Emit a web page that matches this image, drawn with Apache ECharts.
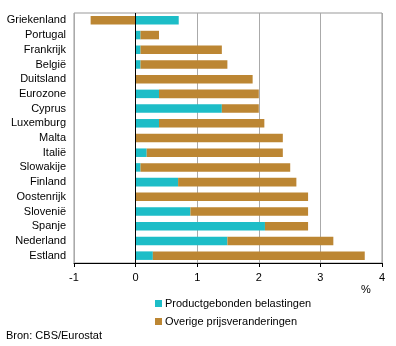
<!DOCTYPE html>
<html><head><meta charset="utf-8">
<script src="https://cdn.jsdelivr.net/npm/echarts@6/dist/echarts.min.js"></script>
<style>html,body{margin:0;padding:0;background:#fff}#c{width:396px;height:346px}</style>
</head><body><div id="c"></div>
<script>
const categories = ['Griekenland','Portugal','Frankrijk','België','Duitsland','Eurozone','Cyprus','Luxemburg','Malta','Italië','Slowakije','Finland','Oostenrijk','Slovenië','Spanje','Nederland','Estland'];
const productgebonden = [0.7,0.08,0.08,0.08,0,0.38,1.4,0.38,0,0.18,0.08,0.69,0,0.89,2.1,1.49,0.28];
const overige = [-0.73,0.3,1.32,1.41,1.9,1.62,0.6,1.71,2.39,2.21,2.43,1.92,2.8,1.91,0.7,1.72,3.44];
const xTicks = {min:-1,max:4,interval:1};
const F = 'Liberation Sans, Arial, sans-serif';
const chart = echarts.init(document.getElementById('c'));
chart.setOption({
  animation:false,
  textStyle:{fontFamily:F,color:'#000'},
  grid:{left:74,right:14,top:13,bottom:83,show:true,borderColor:'#999',borderWidth:1,backgroundColor:'transparent'},
  xAxis:{type:'value',min:xTicks.min,max:xTicks.max,interval:xTicks.interval,
    axisLine:{show:true,lineStyle:{color:'#000',width:1}},
    axisTick:{show:true,length:4,lineStyle:{color:'#000'}},
    axisLabel:{color:'#000',fontSize:11,fontFamily:F,margin:9},
    splitLine:{show:true,lineStyle:{color:'#aaa',width:1}}},
  yAxis:{type:'category',data:categories,inverse:true,
    axisLine:{show:false},axisTick:{show:false},
    axisLabel:{color:'#000',fontSize:11,fontFamily:F,margin:8},
    splitLine:{show:false}},
  legend:{orient:'vertical',left:155,top:298,padding:0,itemWidth:7,itemHeight:7,itemGap:7,
    icon:'rect',textStyle:{fontSize:11,fontFamily:F,color:'#000',padding:[0,0,0,-2]},
    data:['Productgebonden belastingen','Overige prijsveranderingen']},
  graphic:[
    {type:'text',left:361,top:284,style:{text:'%',font:'11px '+F,fill:'#000'}},
    {type:'text',left:6,top:330,style:{text:'Bron: CBS/Eurostat',font:'11px '+F,fill:'#000'}}
  ],
  series:[
    {name:'Productgebonden belastingen',type:'bar',stack:'a',data:productgebonden,
     itemStyle:{color:'#1dbdc7'},barCategoryGap:'42%'},
    {name:'Overige prijsveranderingen',type:'bar',stack:'a',data:overige,
     itemStyle:{color:'#bc8633'},barCategoryGap:'42%',
     markLine:{silent:true,symbol:'none',z:10,label:{show:false},lineStyle:{color:'#000',type:'solid',width:1},data:[{xAxis:0}]}}
  ]
});
</script></body></html>
